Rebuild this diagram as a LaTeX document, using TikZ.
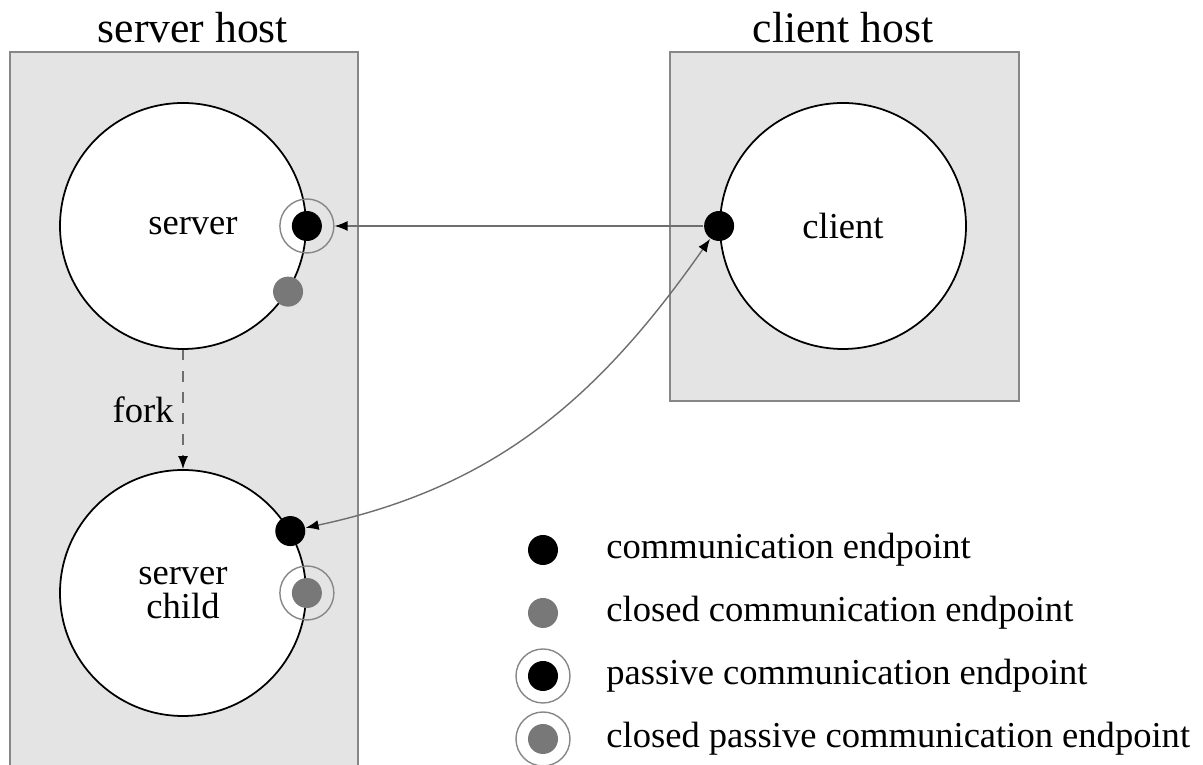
\documentclass[tikz,border=0pt]{standalone}
\usepackage{fontspec}
\setmainfont{Liberation Serif}
\usetikzlibrary{arrows.meta, positioning}

\definecolor{hostfill}{RGB}{228,228,228}
\definecolor{hostline}{RGB}{135,135,135}
\definecolor{closedgray}{RGB}{120,120,120}
\definecolor{linkgray}{RGB}{110,110,110}

\begin{document}
\begin{tikzpicture}[
    >={Latex[length=1.3mm,width=1mm,color=black]},
    proc/.style={circle, draw, fill=white, line width=0.5pt, minimum size=24.6mm, inner sep=0,
      font=\fontsize{10.4}{9.7}\selectfont, align=center},
    ep/.style={circle, fill=black, minimum size=3mm, inner sep=0},
    closedep/.style={ep, fill=closedgray},
    ring/.style={circle, draw=hostline, line width=0.4pt, minimum size=5.4mm, inner sep=0},
    hostbox/.style={fill=hostfill, draw=hostline, line width=0.5pt},
    hosttitle/.style={font=\fontsize{12.4}{14}\selectfont, anchor=base},
    link/.style={draw=linkgray, line width=0.4pt},
    legtext/.style={font=\fontsize{10.4}{12}\selectfont, inner sep=0, right=4.7mm of #1}
  ]
      \useasboundingbox (0,0) rectangle (12.03,7.65);

      % hosts
      \draw[hostbox] (0.10,-0.05) rectangle (3.58,7.13);
      \draw[hostbox] (6.70,3.64) rectangle (10.19,7.13);
      \node[hosttitle] (shost) at (1.93,7.22) {server host};
      \node[hosttitle] (chost) at (8.43,7.22) {client host};

      % processes
      \node[proc] (srv) at (1.83,5.39) {\hspace{2mm}\raisebox{-0.5mm}{server}};
      \node[proc] (cli) at (8.43,5.39) {client};
      \node[proc] (chd) at (1.83,1.72) {server\\child};

      % endpoints
      \node[ring] (srvring) at (srv.east) {};
      \node[ep] (srvep) at (srv.east) {};
      \node[closedep] (srvclosed) at (srv.-32) {};
      \node[ep] (cliep) at (cli.west) {};
      \node[ep] (chdep) at (chd.30) {};
      \node[ring] (chdring) at (chd.east) {};
      \node[closedep] (chdclosed) at (chd.east) {};

      \draw[link, ->] (cliep.west) -- (srvring.east);
      \draw[link, <->] (chdep) to[out=12, in=235] (cliep);
      \draw[link, dashed, ->] (srv.south) -- (chd.north);
      \node[font=\fontsize{10.4}{12}\selectfont, anchor=east] (fork) at (1.86,3.55) {fork};

      % legend
      \node[ep] (l1) at (5.43,2.15) {};
      \node[closedep] (l2) at (5.43,1.52) {};
      \node[ring] (l3r) at (5.43,0.89) {};
      \node[ep] (l3) at (5.43,0.89) {};
      \node[ring] (l4r) at (5.43,0.26) {};
      \node[closedep] (l4) at (5.43,0.26) {};

      \node[legtext=l1] (t1) {communication endpoint};
      \node[legtext=l2] (t2) {closed communication endpoint};
      \node[legtext=l3] (t3) {passive communication endpoint};
      \node[legtext=l4] (t4) {closed passive communication endpoint};
    \end{tikzpicture}
\end{document}
